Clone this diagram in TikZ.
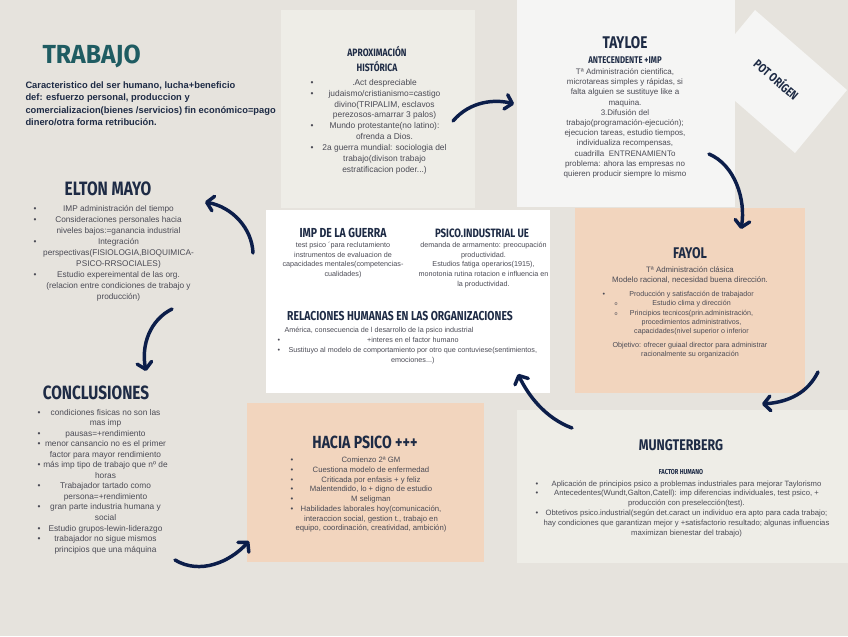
\documentclass[tikz,border=0pt]{standalone}
\usepackage{fontspec}
\usepackage{array}
\setmainfont{Liberation Sans}
\newfontfamily\titlefont{Fira Sans}[FakeStretch=0.8]
\newfontfamily\titlewide{Fira Sans}[FakeStretch=0.95]
\usetikzlibrary{arrows.meta}

\definecolor{fondo}{RGB}{230,227,221}
\definecolor{cajagris}{RGB}{238,237,231}
\definecolor{cajablanca}{RGB}{245,245,244}
\definecolor{durazno}{RGB}{242,213,190}
\definecolor{marino}{RGB}{30,43,69}
\definecolor{flecha}{RGB}{12,30,74}
\definecolor{verdeazul}{RGB}{31,92,98}
\definecolor{gristexto}{RGB}{75,75,85}

\newlength{\itmw}
\newcommand{\fs}[2]{\fontsize{#1pt}{#2pt}\selectfont}
\newcommand{\ctext}[1]{\begin{tabular}{@{}c@{}}#1\end{tabular}}
\newcommand{\blist}[2]{\setlength{\itmw}{#1}\begin{tabular}{@{}l@{}l@{}}#2\end{tabular}}
\newcommand{\itm}[1]{\rlap{\textbullet} & \makebox[\itmw]{\begin{tabular}[t]{@{}c@{}}#1\end{tabular}}\\}
\newcommand{\sitm}[1]{\rlap{\hspace{9pt}{\fs{4}{4}o}} & \makebox[\itmw]{\begin{tabular}[t]{@{}c@{}}#1\end{tabular}}\\}

\tikzset{every picture/.style={line width=0.75pt}}
\tikzset{
  txt/.style={inner sep=0pt, text=gristexto},
  ttl/.style={inner sep=0pt, text=marino, anchor=base},
  arr/.style={draw=flecha, line width=2.6pt, line cap=round, -{Straight Barb[length=5pt,width=11pt,round]}}
}

\begin{document}
\begin{tikzpicture}[x=0.75pt,y=0.75pt,yscale=-1,xscale=1]
%set diagram size 848 x 636
\path[fill=fondo] (0,0) rectangle (848,636);

%Shape: Rectangle (aproximacion)
\fill[cajagris] (281,10) rectangle (475,208);
%Shape: Rotated Rectangle (pot origen)
\fill[cajablanca] (755,10) -- (847,90) -- (795,153) -- (703,73) -- cycle;
%Shape: Rectangle (tayloe)
\fill[cajablanca] (517,0) rectangle (735,207);
%Shape: Rectangle (centro)
\fill[white] (266,210) rectangle (550,393);
%Shape: Rectangle (fayol)
\fill[durazno] (575,208) rectangle (805,393);
%Shape: Rectangle (hacia psico)
\fill[durazno] (247,403) rectangle (484,562);
%Shape: Rectangle (mungterberg)
\fill[cajagris] (517,410) rectangle (848,563);

% Text Node
\draw (42,63) node [ttl, anchor=base west, text=verdeazul, font=\titlewide\bfseries\fs{19.6}{20}] (trabajo) {TRABAJO};
% Text Node
\draw (25,79) node [txt, anchor=north west, text=marino, font=\bfseries\fs{7}{9.4}] (intro) {\begin{tabular}{@{}l@{}}Caracteristico del ser humano, lucha+beneficio\\def: esfuerzo personal, produccion y\\comercializacion(bienes /servicios) fin económico=pago\\dinero/otra forma retribución.\end{tabular}};

% Text Node
\draw (377,56.7) node [ttl, font=\titlefont\bfseries\fs{8}{9}] (aprox1) {APROXIMACIÓN};
\draw (377,71.7) node [ttl, font=\titlefont\bfseries\fs{8}{9}] (aprox2) {HISTÓRICA};
% Text Node
\draw (310,77) node [txt, anchor=north west, font=\fs{6.3}{8.2}] (aproxtxt) {\blist{111pt}{
\itm{.Act despreciable}
\itm{judaismo/cristianismo=castigo\\divino(TRIPALIM, esclavos\\perezosos-amarrar 3 palos)}
\itm{Mundo protestante(no latino):\\ofrenda a Dios.}
\itm{2a guerra mundial: sociologia del\\trabajo(divison trabajo\\estratificacion poder...)}}};

% Text Node
\draw (625,48) node [ttl, font=\titlefont\bfseries\fs{12.7}{13}] (tayloe) {TAYLOE};
\draw (625,63.3) node [ttl, font=\titlefont\bfseries\fs{7.3}{8}] (antec) {ANTECENDENTE +IMP};
% Text Node
\draw (625,66.8) node [txt, anchor=north, font=\fs{6}{7.65}] (taylortxt) {\ctext{Tª Administración cientifica,\\microtareas simples y rápidas, si\\falta alguien se sustituye like a\\maquina.\\3.Difusión del\\trabajo(programación-ejecución);\\ejecucion tareas, estudio tiempos,\\individualiza recompensas,\\cuadrilla\ \ ENTRENAMIENTo\\problema: ahora las empresas no\\quieren producir siempre lo mismo}};

% Text Node
\draw (777,79) node [inner sep=0pt, text=marino, rotate=-41, font=\titlefont\bfseries\fs{9.3}{10}] (pot) {POT ORÍGEN};

% Text Node
\draw (108,195) node [ttl, font=\titlefont\bfseries\fs{14.5}{15}] (elton) {ELTON MAYO};
% Text Node
\draw (33,203.6) node [txt, anchor=north west, font=\fs{6.2}{8.25}] (eltontxt) {\blist{127.5pt}{
\itm{IMP administración del tiempo}
\itm{Consideraciones personales hacia\\niveles bajos:=ganancia industrial}
\itm{Integración\\perspectivas(FISIOLOGIA,BIOQUIMICA-\\PSICO-RRSOCIALES)}
\itm{Estudio expereimental de las org.\\(relacion entre condiciones de trabajo y\\producción)}}};

% Text Node
\draw (343,237) node [ttl, font=\titlefont\bfseries\fs{9.8}{10}] (guerra) {IMP DE LA GUERRA};
\draw (343,240.2) node [txt, anchor=north, font=\fs{5.4}{7.3}] (guerratxt) {\ctext{test psico ´para reclutamiento\\instrumentos de evaluacion de\\capacidades mentales(competencias-\\cualidades)}};
% Text Node
\draw (482,237) node [ttl, font=\titlefont\bfseries\fs{9.1}{10}] (psicoue) {PSICO.INDUSTRIAL UE};
\draw (483.5,240.2) node [txt, anchor=north, font=\fs{5.4}{7.3}] (psicouetxt) {\ctext{demanda de armamento: preocupación\\productividad.\\Estudios fatiga operarios(1915),\\monotonia rutina rotacion e influencia en\\la productividad.}};
% Text Node
\draw (400,320) node [ttl, font=\titlefont\bfseries\fs{9.7}{10}] (relaciones) {RELACIONES HUMANAS EN LAS ORGANIZACIONES};
\draw (379,325.3) node [txt, anchor=north, font=\fs{5.4}{7.3}] (america) {\ctext{América, consecuencia de l desarrollo de la psico industrial}};
\draw (277,335.3) node [txt, anchor=north west, font=\fs{5.4}{7.3}] (relacionestxt) {\blist{203pt}{
\itm{+interes en el factor humano}
\itm{Sustituyo al modelo de comportamiento por otro que contuviese(sentimientos,\\emociones...)}}};

% Text Node
\draw (690,258.3) node [ttl, font=\titlefont\bfseries\fs{11.6}{12}] (fayol) {FAYOL};
\draw (690,265.2) node [txt, anchor=north, font=\fs{5.9}{7.5}] (fayoltxt) {\ctext{Tª Administración clásica\\Modelo racional, necesidad buena dirección.}};
\draw (602,289.8) node [txt, anchor=north west, font=\fs{5.35}{6.9}] (fayollist) {\blist{133.5pt}{
\itm{Producción y satisfacción de trabajador}
\sitm{Estudio clima y dirección}
\sitm{Principios tecnicos(prin.administración,\\procedimientos administrativos,\\capacidades(nivel superior o inferior}}};
\draw (690,339.7) node [txt, anchor=north, font=\fs{5.4}{7.3}] (objetivo) {\ctext{Objetivo: ofrecer guiaal director para administrar\\racionalmente su organización}};

% Text Node
\draw (96,399) node [ttl, font=\titlefont\bfseries\fs{14.4}{15}] (conclusiones) {CONCLUSIONES};
\draw (37,407.3) node [txt, anchor=north west, font=\fs{6.25}{7.9}] (conclusionestxt) {\blist{102pt}{
\itm{condiciones fisicas no son las\\mas imp}
\itm{pausas=+rendimiento}
\itm{menor cansancio no es el primer\\factor para mayor rendimiento}
\itm{más imp tipo de trabajo que nº de\\horas}
\itm{Trabajador tartado como\\persona=+rendimiento}
\itm{gran parte industria humana y\\social}
\itm{Estudio grupos-lewin-liderazgo}
\itm{trabajador no sigue mismos\\principios que una máquina}}};

% Text Node
\draw (365,448.3) node [ttl, font=\titlefont\bfseries\fs{13.2}{14}] (hacia) {HACIA PSICO +++};
\draw (290,455.4) node [txt, anchor=north west, font=\fs{5.8}{7.3}] (haciatxt) {\blist{120.75pt}{
\itm{Comienzo 2ª GM}
\itm{Cuestiona modelo de enfermedad}
\itm{Criticada por enfasis + y feliz}
\itm{Malentendido, lo + digno de estudio}
\itm{M seligman}
\itm{Habilidades laborales hoy(comunicación,\\interaccion social, gestion t., trabajo en\\equipo, coordinación, creatividad, ambición)}}};

% Text Node
\draw (681,450) node [ttl, font=\titlefont\bfseries\fs{11.6}{12}] (mung) {MUNGTERBERG};
\draw (681,474.3) node [ttl, font=\titlefont\bfseries\fs{5.4}{6}] (factor) {FACTOR HUMANO};
\draw (535,478.6) node [txt, anchor=north west, font=\fs{5.75}{7.4}] (mungtxt) {\blist{226.5pt}{
\itm{Aplicación de principios psico a problemas industriales para mejorar Taylorismo}
\itm{Antecedentes(Wundt,Galton,Catell): imp diferencias individuales, test psico, +\\producción con preselección(test).}
\itm{Obtetivos psico.industrial(según det.caract un individuo era apto para cada trabajo;\\hay condiciones que garantizan mejor y +satisfactorio resultado; algunas influencias\\maximizan bienestar del trabajo)}}};

%Curve Lines
\coordinate (a1s) at (453,121);
\coordinate (a1e) at (514,104);
\draw [arr] (a1s) .. controls (470,101) and (495,99) .. (a1e);
\coordinate (a2s) at (709,154);
\coordinate (a2e) at (741,229);
\draw [arr] (a2s) .. controls (735,165) and (746,200) .. (a2e);
\coordinate (a3s) at (253,253);
\coordinate (a3e) at (205,202);
\draw [arr] (a3s) .. controls (252,228) and (232,207) .. (a3e);
\coordinate (a4s) at (172,309);
\coordinate (a4e) at (146,371);
\draw [arr] (a4s) .. controls (150,320) and (141,345) .. (a4e);
\coordinate (a5s) at (175,560);
\coordinate (a5e) at (249,541);
\draw [arr] (a5s) .. controls (200,575) and (230,562) .. (a5e);
\coordinate (a6s) at (572,428);
\coordinate (a6e) at (518,374);
\draw [arr] (a6s) .. controls (545,418) and (528,395) .. (a6e);
\coordinate (a7s) at (818,372);
\coordinate (a7e) at (762,404);
\draw [arr] (a7s) .. controls (808,392) and (790,402) .. (a7e);

\end{tikzpicture}
\end{document}
